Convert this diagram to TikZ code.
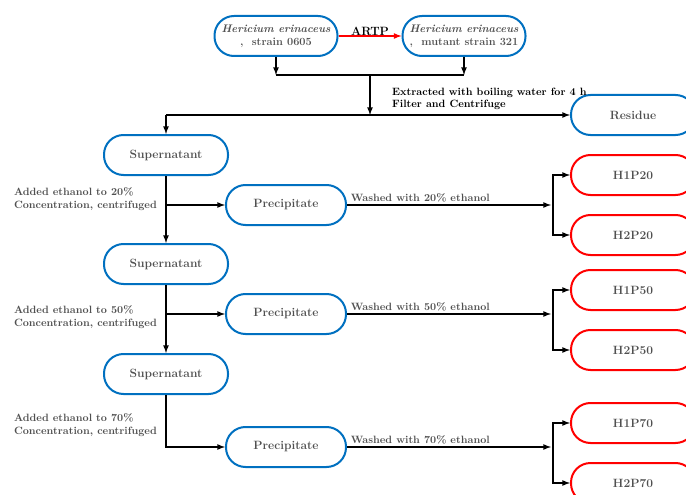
\documentclass[tikz,border=0pt]{standalone}
\usepackage{amsmath}
\usepackage{tikz}
\usetikzlibrary{shapes,arrows,positioning,calc}
\definecolor{nodeblue}{RGB}{0,112,192}
\definecolor{textgray}{RGB}{80,80,80}

\begin{document}
\begin{tikzpicture}[
    x=1pt, y=-1pt,
    strain/.style = {rectangle, draw=nodeblue, line width=2pt, rounded corners=19.5pt, minimum width=123pt, minimum height=40pt, inner sep=1pt, text=textgray, align=center, font=\fontsize{11}{13}\selectfont\bfseries},
    stage/.style = {rectangle, draw=nodeblue, line width=2pt, rounded corners=19.5pt, minimum width=124pt, minimum height=40pt, text=textgray, font=\large\bfseries},
    fraction/.style = {stage, draw=red},
    arrow/.style = {-latex, line width=1.6pt},
    note/.style = {inner sep=0pt, align=left, text=textgray, font=\fontsize{10.6}{12.5}\selectfont\bfseries}
]
    \useasboundingbox (0,0) rectangle (686,495);
    \clip (0,0) rectangle (686,495);

    % Strains
    \node[strain] (strainA) at (276,36) {\textit{Hericium erinaceus}\\,\ \ strain 0605};
    \node[strain] (strainB) at (464,36) {\textit{Hericium erinaceus}\\,\ \ mutant strain 321};
    \draw[arrow, red] (strainA) -- node[above=-4pt, font=\large\bfseries, text=black] {ARTP} (strainB);

    % Extraction
    \coordinate (merge) at (370,75);
    \node[stage] (residue) at (633,115) {Residue};
    \node[stage] (super1) at (166,155) {Supernatant};
    \draw[arrow] (strainA) -- (strainA |- merge);
    \draw[arrow] (strainB) -- (strainB |- merge);
    \draw[line width=1.6pt] (strainA |- merge) -- (strainB |- merge);
    \draw[arrow] (merge) -- (merge |- residue);
    \draw[arrow] (super1 |- residue) -- (residue);
    \draw[arrow] (super1 |- residue) -- (super1);
    \node[note, text=black, anchor=south west] at (392,110) {Extracted with boiling water for 4 h\\Filter and Centrifuge};

    % Supernatants and precipitates
    \node[stage] (super2) at (166,264) {Supernatant};
    \node[stage] (super3) at (166,374) {Supernatant};
    \node[stage, minimum width=120pt] (prec1) at (286,205) {Precipitate};
    \node[stage, minimum width=120pt] (prec2) at (286,314) {Precipitate};
    \node[stage, minimum width=120pt] (prec3) at (286,447) {Precipitate};
    \draw[arrow] (super1) -- (super2);
    \draw[arrow] (super2) -- (super3);
    \draw[arrow] (super1 |- prec1) -- (prec1);
    \draw[arrow] (super2 |- prec2) -- (prec2);
    \draw[arrow] (super3) |- (prec3);
    \node[note, left=9pt of {super1 |- prec1}, yshift=6pt] {Added ethanol to 20\%\\Concentration, centrifuged};
    \node[note, left=9pt of {super2 |- prec2}, yshift=-3pt] {Added ethanol to 50\%\\Concentration, centrifuged};
    \node[note, left=9pt of {super3 |- prec3}, yshift=22pt] {Added ethanol to 70\%\\Concentration, centrifuged};

    % Fractions
    \node[fraction] (h1p20) at (633,175) {H1P20};
    \node[fraction] (h2p20) at (633,235) {H2P20};
    \node[fraction] (h1p50) at (633,290) {H1P50};
    \node[fraction] (h2p50) at (633,350) {H2P50};
    \node[fraction] (h1p70) at (633,423) {H1P70};
    \node[fraction] (h2p70) at (633,483) {H2P70};
    \coordinate (fork1) at (553,205);
    \coordinate (fork2) at (553,314);
    \coordinate (fork3) at (553,447);
    \draw[arrow, shorten >=2pt] (prec1) -- node[note, pos=0, anchor=south west, xshift=3pt, yshift=2pt] {Washed with 20\% ethanol} (fork1);
    \draw[arrow, shorten >=2pt] (prec2) -- node[note, pos=0, anchor=south west, xshift=3pt, yshift=2pt] {Washed with 50\% ethanol} (fork2);
    \draw[arrow, shorten >=2pt] (prec3) -- node[note, pos=0, anchor=south west, xshift=3pt, yshift=2pt] {Washed with 70\% ethanol} (fork3);
    \draw[arrow] (fork1) |- (h1p20);
    \draw[arrow] (fork1) |- (h2p20);
    \draw[arrow] (fork2) |- (h1p50);
    \draw[arrow] (fork2) |- (h2p50);
    \draw[arrow] (fork3) |- (h1p70);
    \draw[arrow] (fork3) |- (h2p70);

\end{tikzpicture}
\end{document}
